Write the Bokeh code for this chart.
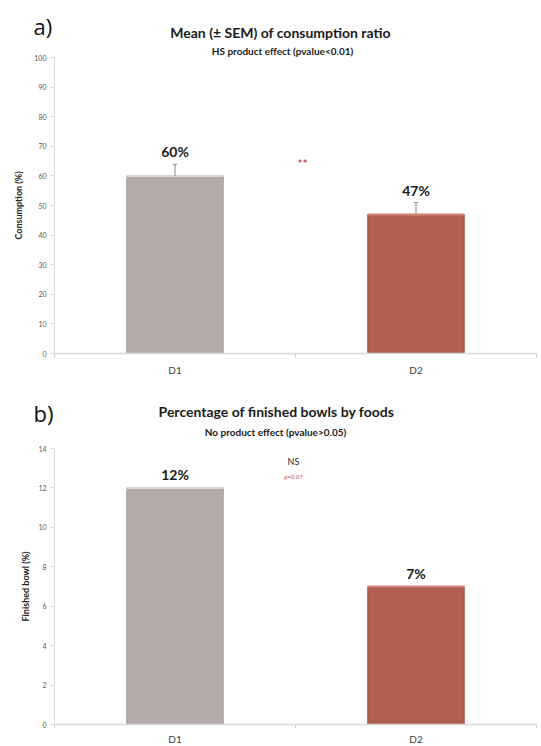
from bokeh.plotting import figure
from bokeh.models import Range1d, FixedTicker, Label
from bokeh.layouts import column
from bokeh.embed import file_html
from bokeh.resources import INLINE

# ---------------- data ----------------
categories = ["D1", "D2"]
consumption = [60, 47]          # mean consumption (%)
consumption_sem = [3.9, 4.0]    # SEM (upper error bar)
finished = [12, 7]              # finished bowls (%)
yticks_a = [0, 10, 20, 30, 40, 50, 60, 70, 80, 90, 100]
yticks_b = [0, 2, 4, 6, 8, 10, 12, 14]
bar_colors = ["#b2aba9", "#af6052"]
edge_colors = ["#a39b99", "#9c5043"]
top_colors = ["#ddd2ce", "#d4887a"]

FONT = "Lato"
W = 541
AXIS_X = 54          # pixel position of the value axis
CAT_PX = 241         # pixels per category


def base_fig(height, y0_px, ytop_px, ymax, yticks, ylabel, label_standoff, xl_standoff):
    """Frame covers the whole figure; axes are placed at fixed locations."""
    ppu = (y0_px - ytop_px) / ymax
    ncat = len(categories)
    xs = [i + 0.5 for i in range(ncat)]
    p = figure(width=W, height=height, output_backend="svg", toolbar_location=None,
               x_range=Range1d(-AXIS_X / CAT_PX, (W - AXIS_X) / CAT_PX),
               y_range=Range1d(-(height - y0_px) / ppu, y0_px / ppu),
               min_border=0)
    p.outline_line_color = None
    p.xgrid.grid_line_color = None
    p.ygrid.grid_line_color = None
    p.background_fill_color = "white"
    p.border_fill_color = "white"

    xa = p.xaxis[0]
    xa.fixed_location = 0
    xa.bounds = (0, ncat)
    xa.ticker = FixedTicker(ticks=xs, minor_ticks=list(range(ncat + 1)))
    xa.major_label_overrides = {x: c for x, c in zip(xs, categories)}
    xa.axis_line_color = "#d9d9d9"
    xa.axis_line_width = 1.5
    xa.major_tick_line_color = None
    xa.minor_tick_line_color = "#cfcfcf"
    xa.minor_tick_out = 4
    xa.minor_tick_in = 0
    xa.major_label_standoff = xl_standoff
    xa.major_label_text_font = FONT
    xa.major_label_text_font_size = "10px"
    xa.major_label_text_color = "#404040"

    ya = p.yaxis[0]
    ya.fixed_location = 0
    ya.bounds = (0, ymax)
    ya.ticker = FixedTicker(ticks=yticks, minor_ticks=[])
    ya.axis_line_color = "#d9d9d9"
    ya.major_tick_line_color = "#d9d9d9"
    ya.major_tick_out = 4
    ya.major_tick_in = 0
    ya.major_label_standoff = 4
    ya.major_label_text_font = FONT
    ya.major_label_text_font_size = "7px"
    ya.major_label_text_color = "#595959"
    ya.axis_label = ylabel
    ya.axis_label_text_font = FONT
    ya.axis_label_text_font_size = "9px"
    ya.axis_label_text_font_style = "bold"
    ya.axis_label_text_color = "#262626"
    ya.axis_label_standoff = label_standoff
    return p, xs


def add_text(p, text, x, y_from_top, size, style="bold", color="#1a1a1a",
             align="center", family=FONT):
    p.add_layout(Label(x=x, y=p.height - y_from_top, x_units="screen", y_units="screen",
                       text=text, text_font=family, text_font_size=size,
                       text_font_style=style, text_color=color, text_align=align,
                       text_baseline="middle"))


def add_bars(p, xs, vals):
    p.vbar(x=xs, top=vals, width=0.4, fill_color=bar_colors,
           line_color=edge_colors, line_width=1)
    p.segment(x0=[x - 0.2 for x in xs], y0=vals, x1=[x + 0.2 for x in xs], y1=vals,
              line_color=top_colors, line_width=2)


# ---------------- chart a ----------------
pa, xs = base_fig(375, 353, 57, 100, yticks_a, "Consumption (%)", 7, 4)
add_bars(pa, xs, consumption)
upper = [v + s for v, s in zip(consumption, consumption_sem)]
pa.segment(x0=xs, y0=consumption, x1=xs, y1=upper, line_color="#8c8c8c", line_width=1)
pa.scatter(x=xs, y=upper, marker="dash", size=4, line_color="#8c8c8c", line_width=1)
pa.text(x=xs, y=upper, text=[f"{v}%" for v in consumption], text_align="center",
        text_baseline="bottom", y_offset=-4, text_font_size="14px",
        text_font_style="bold", text_color="#1a1a1a", text_font={"value": FONT})

add_text(pa, "a)", 33, 25, "22px", style="normal", color="#111111", align="left",
         family="Open Sans")
add_text(pa, "Mean (\u00b1 SEM) of consumption ratio", 280, 32, "14px")
add_text(pa, "HS product effect (pvalue<0.01)", 282, 50, "10px")
add_text(pa, "**", 302, 163, "12px", color="#c0504d")

# ---------------- chart b ----------------
pb, xs = base_fig(371, 349, 73, 14, yticks_b, "Finished bowl (%)", 4, 2)
add_bars(pb, xs, finished)
pb.text(x=xs, y=finished, text=[f"{v}%" for v in finished], text_align="center",
        text_baseline="bottom", y_offset=-5, text_font_size="14px",
        text_font_style="bold", text_color="#1a1a1a", text_font={"value": FONT})

add_text(pb, "b)", 33, 37, "22px", style="normal", color="#111111", align="left",
         family="Open Sans")
add_text(pb, "Percentage of finished bowls by foods", 276, 36, "14px")
add_text(pb, "No product effect (pvalue>0.05)", 275, 56, "10px")
add_text(pb, "NS", 293, 86, "9px", style="normal", color="#262626")
add_text(pb, "p=0.07", 293, 101, "6px", style="italic", color="#c0504d")

layout = column(pa, pb, spacing=0)
open("out.html", "w").write(file_html(layout, INLINE))
